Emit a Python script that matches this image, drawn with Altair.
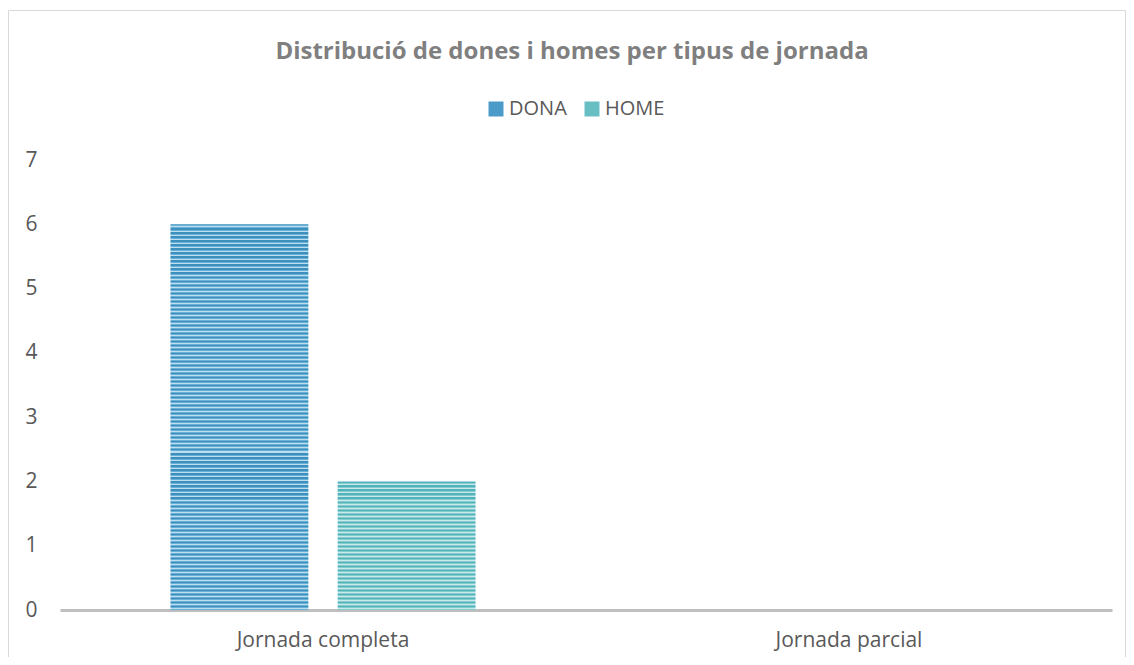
import altair as alt
import pandas as pd

categories = ["Jornada completa", "Jornada parcial"]
series = ["DONA", "HOME"]
dona = [6, 0]
home = [2, 0]
y_ticks = [0, 1, 2, 3, 4, 5, 6, 7]
title_text = "Distribució de dones i homes per tipus de jornada"

rows = []
for c, d, h in zip(categories, dona, home):
    rows.append({"jornada": c, "sexe": "DONA", "valor": d})
    rows.append({"jornada": c, "sexe": "HOME", "valor": h})
df = pd.DataFrame(rows)

STRIPES_PER_UNIT = 16


def striped(n, dark, mid, light):
    segs = [(0.0, 0.3, dark), (0.3, 0.55, mid), (0.55, 0.8, light), (0.8, 1.0, mid)]
    stops = []
    for i in range(n):
        for a, b, col in segs:
            stops.append(alt.GradientStop(offset=round((i + a) / n, 6), color=col))
            stops.append(alt.GradientStop(offset=round((i + b) / n, 6), color=col))
    return alt.LinearGradient(gradient="linear", x1=0, y1=0, x2=0, y2=1, stops=stops)


grad_dona = striped(max(dona) * STRIPES_PER_UNIT, "#3d90be", "#68b0d5", "#bcdeee")
grad_home = striped(max(home) * STRIPES_PER_UNIT, "#53b3ba", "#85cccf", "#cbe9ea")

x_enc = alt.X(
    "jornada:N",
    sort=categories,
    scale=alt.Scale(paddingInner=0.42, paddingOuter=0.21),
    axis=alt.Axis(
        title=None,
        labelAngle=0,
        ticks=False,
        domain=True,
        domainColor="#bfbfbf",
        domainWidth=3,
        labelPadding=19,
        labelFontSize=21,
        labelColor="#595959",
    ),
)
xoff_enc = alt.XOffset(
    "sexe:N", sort=series, scale=alt.Scale(domain=series, paddingInner=0.175, paddingOuter=0)
)
y_enc = alt.Y(
    "valor:Q",
    scale=alt.Scale(domain=[0, 7], nice=False),
    axis=alt.Axis(
        title=None,
        values=y_ticks,
        grid=False,
        ticks=False,
        domain=False,
        labelPadding=23,
        labelFontSize=21,
        labelColor="#595959",
    ),
)
color_enc = alt.Color(
    "sexe:N",
    sort=series,
    scale=alt.Scale(domain=series, range=["#4a9bc7", "#67bfc4"]),
    legend=alt.Legend(
        title=None,
        orient="none",
        direction="horizontal",
        legendX=426,
        legendY=-61,
        symbolType="square",
        symbolSize=225,
        symbolStrokeWidth=0,
        symbolOpacity=1,
        labelFontSize=20,
        labelColor="#595959",
        labelOffset=3,
        columnPadding=15,
        padding=0,
    ),
)

base = alt.Chart(df)

border = alt.Chart(alt.Data(values=[{}])).mark_rect(
    fillOpacity=0, stroke="#d9d9d9", strokeWidth=1
).encode(
    x=alt.value(-51.5), x2=alt.value(1065.5), y=alt.value(-149.5), y2=alt.value(600)
)

legend_layer = base.mark_square(opacity=0, size=1).encode(
    x=x_enc, xOffset=xoff_enc, y=y_enc, color=color_enc
)

bars_dona = base.transform_filter(alt.datum.sexe == "DONA").mark_bar().encode(
    x=x_enc, xOffset=xoff_enc, y=y_enc, fill=alt.value(grad_dona)
)
bars_home = base.transform_filter(alt.datum.sexe == "HOME").mark_bar().encode(
    x=x_enc, xOffset=xoff_enc, y=y_enc, fill=alt.value(grad_home)
)

chart = (
    alt.layer(border, bars_dona, bars_home, legend_layer)
    .properties(
        width=1052,
        height=450,
        title=alt.TitleParams(
            text=title_text,
            anchor="middle",
            fontSize=24,
            fontWeight="bold",
            color="#7f7f7f",
            font="Open Sans",
            dx=-14,
            dy=54,
            offset=0,
        ),
        autosize=alt.AutoSizeParams(type="none"),
        padding={"left": 52, "top": 152, "right": 14, "bottom": 47},
    )
    .configure(font="Open Sans")
    .configure_view(stroke=None)
    .configure_axis(labelFont="Open Sans")
    .configure_legend(labelFont="Open Sans")
)

chart.save("out.html", embed_options={"renderer": "svg", "actions": False})
